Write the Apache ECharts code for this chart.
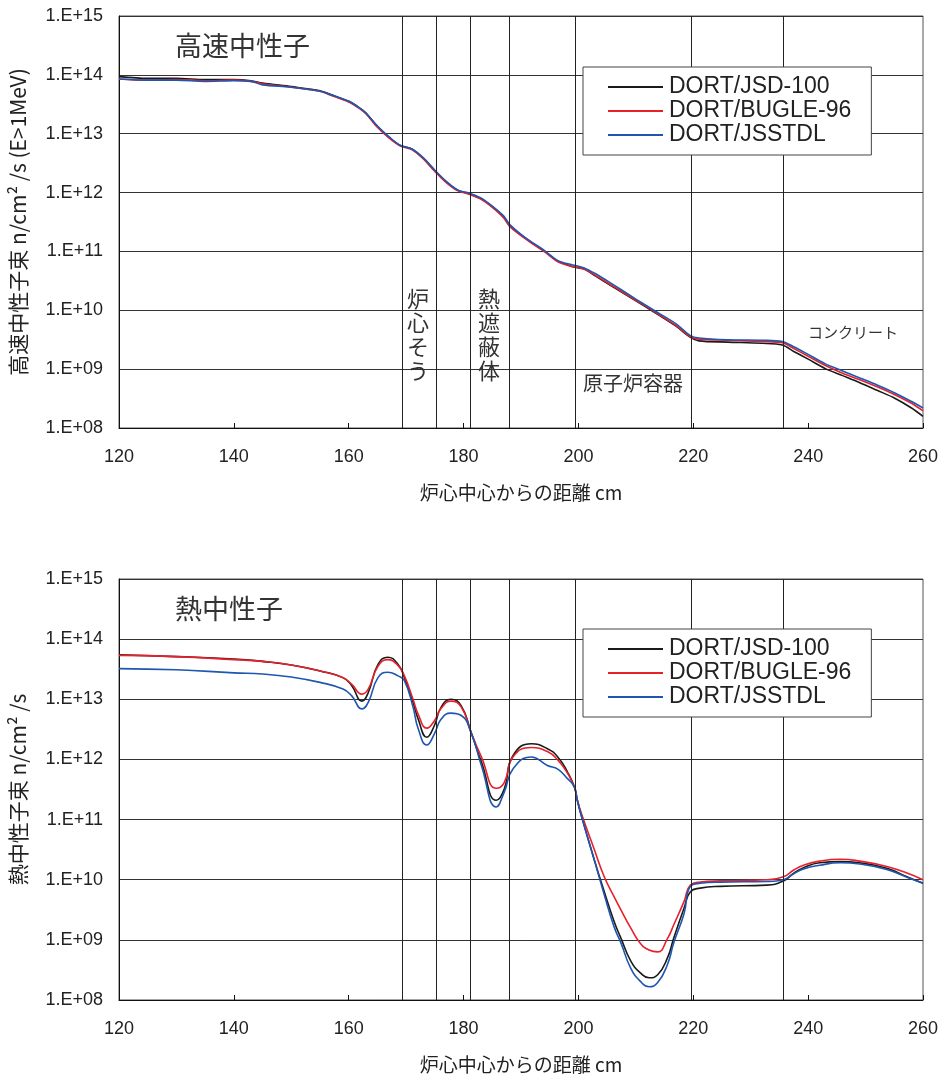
<!DOCTYPE html>
<html>
<head>
<meta charset="utf-8">
<script src="https://cdn.jsdelivr.net/npm/echarts@6/dist/echarts.min.js"></script>
<style>
html,body{margin:0;padding:0;background:#fff;}
#c{width:943px;height:1075px;}
</style>
</head>
<body>
<div id="c"></div>
<script>
// ---------- data ----------
const seriesNames = ['DORT/JSD-100', 'DORT/BUGLE-96', 'DORT/JSSTDL'];
const xTicks = [120, 140, 160, 180, 200, 220, 240, 260];
const yTickLabels = ['1.E+08','1.E+09','1.E+10','1.E+11','1.E+12','1.E+13','1.E+14','1.E+15'];
const regionBoundaries = [169.3, 175.2, 181.2, 188.0, 199.4, 219.7, 235.7];

// fast neutron flux (E>1MeV)
const fastX = [120,125,130,135,140,143,145,150,155,157,160,162,163,165,167,169,171,173,175,177,179,181,183,185,187,188,190,192,194,196,197,199,201,203,206,210,213,217,219.5,221,226,232,235.5,237.5,240,243,246,249,252,255,258,260];
const fastJSD = [9.33e13,8.71e13,8.71e13,8.32e13,8.32e13,7.94e13,7.24e13,6.31e13,5.37e13,4.57e13,3.55e13,2.69e13,2.24e13,1.32e13,8.71e12,6.31e12,5.50e12,3.80e12,2.34e12,1.51e12,1.10e12,9.55e11,7.94e11,5.75e11,3.80e11,2.75e11,1.91e11,1.38e11,1.02e11,7.24e10,6.46e10,5.50e10,5.01e10,3.80e10,2.51e10,1.45e10,9.55e9,5.37e9,3.47e9,3.02e9,2.88e9,2.75e9,2.57e9,2.0e9,1.48e9,1.02e9,7.76e8,5.89e8,4.37e8,3.24e8,2.19e8,1.58e8];
const fastBUGLE = [8.51e13,8.13e13,8.32e13,7.94e13,8.13e13,7.76e13,7.08e13,6.17e13,5.25e13,4.47e13,3.47e13,2.63e13,2.19e13,1.29e13,8.51e12,6.17e12,5.37e12,3.72e12,2.29e12,1.48e12,1.07e12,9.33e11,7.76e11,5.62e11,3.72e11,2.69e11,1.86e11,1.35e11,1.0e11,7.08e10,6.31e10,5.50e10,5.01e10,3.89e10,2.57e10,1.48e10,9.77e9,5.50e9,3.55e9,3.24e9,3.09e9,2.95e9,2.82e9,2.24e9,1.66e9,1.15e9,8.51e8,6.61e8,5.01e8,3.72e8,2.63e8,1.95e8];
const fastJSSTDL = [8.51e13,8.13e13,8.13e13,7.76e13,7.94e13,7.76e13,6.76e13,6.17e13,5.25e13,4.57e13,3.55e13,2.69e13,2.24e13,1.35e13,8.91e12,6.31e12,5.50e12,3.89e12,2.40e12,1.55e12,1.10e12,9.77e11,8.13e11,5.89e11,3.98e11,2.88e11,1.95e11,1.41e11,1.05e11,7.41e10,6.61e10,5.89e10,5.25e10,4.17e10,2.75e10,1.55e10,1.02e10,5.89e9,3.72e9,3.39e9,3.16e9,3.09e9,2.95e9,2.40e9,1.78e9,1.23e9,9.33e8,7.08e8,5.37e8,3.98e8,2.82e8,2.19e8];

// thermal neutron flux
const thermX = [120,130,140,145,150,155,159,160.5,162.3,163.4,165.1,166.8,168.6,169.7,171.2,172.1,173.6,174.9,176.1,177.8,179.6,181.3,183.1,185.7,187.1,188.6,191.8,194.6,196.4,198.1,199.3,199.8,200.7,202.7,204.5,206.2,207.4,209.1,210.8,212.3,213.8,215.5,216.6,218.4,219.5,221.2,224.7,232.8,235.7,237.5,239.2,242,245.6,249,253.7,257.2,260];
const thermJSD = [5.50e13,5.13e13,4.68e13,4.27e13,3.72e13,2.95e13,2.29e13,1.70e13,9.33e12,1.29e13,3.80e13,5.01e13,3.80e13,2.29e13,8.91e12,4.68e12,2.34e12,3.63e12,7.41e12,1.0e13,7.76e12,2.82e12,9.12e11,2.09e11,3.24e11,1.15e12,1.82e12,1.51e12,1.10e12,6.17e11,3.47e11,2.09e11,1.0e11,2.24e10,6.31e9,2.04e9,1.07e9,4.47e8,2.82e8,2.34e8,2.63e8,5.01e8,1.07e9,3.39e9,6.31e9,7.24e9,7.76e9,8.13e9,9.55e9,1.29e10,1.58e10,1.91e10,2.0e10,1.91e10,1.55e10,1.12e10,8.71e9];
const thermBUGLE = [5.37e13,5.13e13,4.57e13,4.27e13,3.72e13,2.95e13,2.29e13,1.78e13,1.22e13,1.48e13,3.55e13,4.57e13,3.63e13,2.45e13,1.0e13,5.62e12,3.31e12,4.37e12,7.08e12,9.33e12,7.41e12,2.82e12,1.10e12,3.31e11,4.17e11,1.10e12,1.58e12,1.35e12,9.77e11,5.89e11,3.47e11,2.14e11,1.12e11,3.31e10,1.12e10,5.25e9,3.16e9,1.58e9,8.71e8,6.76e8,6.31e8,1.05e9,1.78e9,4.37e9,8.13e9,9.12e9,9.55e9,1.0e10,1.12e10,1.45e10,1.74e10,2.04e10,2.19e10,2.04e10,1.66e10,1.29e10,1.0e10];
const thermJSSTDL = [3.24e13,3.09e13,2.75e13,2.63e13,2.34e13,1.91e13,1.48e13,1.15e13,6.92e12,8.91e12,2.29e13,2.82e13,2.45e13,2.04e13,7.41e12,3.24e12,1.74e12,2.63e12,4.68e12,5.89e12,5.37e12,2.82e12,7.94e11,1.62e11,2.88e11,6.92e11,1.10e12,7.94e11,6.92e11,4.79e11,3.47e11,2.09e11,1.0e11,2.24e10,5.62e9,1.66e9,8.91e8,3.39e8,2.04e8,1.66e8,1.95e8,3.89e8,8.91e8,2.75e9,7.76e9,8.71e9,9.12e9,9.33e9,1.0e10,1.26e10,1.51e10,1.74e10,1.91e10,1.82e10,1.48e10,1.10e10,8.71e9];

// ---------- chart ----------
const colors = ['#1a1a1a', '#e8202a', '#1f56b0'];
const pair = (xs, ys) => xs.map((x, i) => [x, ys[i]]);
const tickFont = 'Liberation Sans, Arial, sans-serif';
const cjkFont = '"Noto Sans CJK JP", sans-serif';

function xAxisCfg(gi) {
  return {
    type: 'value', gridIndex: gi, min: xTicks[0], max: xTicks[xTicks.length - 1], interval: 20,
    name: '炉心中心からの距離 cm', nameLocation: 'middle', nameGap: 55,
    nameTextStyle: { fontFamily: cjkFont, fontSize: 19, color: '#222' },
    axisLine: { show: true, lineStyle: { color: '#111', width: 1 } },
    axisTick: { show: true, inside: true, length: 5, lineStyle: { color: '#111' } },
    axisLabel: { fontFamily: tickFont, fontSize: 18, color: '#222', margin: 20 },
    splitLine: { show: false }
  };
}
function yAxisCfg(gi, name) {
  return {
    type: 'log', gridIndex: gi, logBase: 10, min: 1e8, max: 1e15, splitNumber: 7,
    name: name, nameLocation: 'middle', nameGap: 90, nameRotate: 90,
    nameTextStyle: { fontFamily: cjkFont, fontSize: 21, color: '#222' },
    axisLine: { show: true, lineStyle: { color: '#111', width: 1 } },
    axisTick: { show: false },
    axisLabel: {
      fontFamily: tickFont, fontSize: 18, color: '#222', margin: 16,
      formatter: v => yTickLabels[Math.round(Math.log10(v)) - 8]
    },
    splitLine: { show: true, lineStyle: { color: '#333', width: 1 } }
  };
}
function lineSeries(gi, name, data, color, smooth, withMarks) {
  const s = {
    type: 'line', name: name, xAxisIndex: gi, yAxisIndex: gi, data: data,
    showSymbol: false, symbol: 'none', smooth: smooth,
    lineStyle: { color: color, width: 1.6 }, itemStyle: { color: color },
    z: 3, animation: false
  };
  if (withMarks) {
    s.markLine = {
      silent: true, symbol: ['none', 'none'], label: { show: false },
      lineStyle: { color: '#222', width: 1, type: 'solid' },
      data: regionBoundaries.map(v => ({ xAxis: v })),
      animation: false
    };
  }
  return s;
}
function legendCfg(top) {
  return {
    orient: 'vertical', left: 583, top: top,
    data: seriesNames,
    icon: 'rect', itemWidth: 55, itemHeight: 2, itemGap: 0,
    padding: [8, 20, 8, 25],
    backgroundColor: '#fff', borderColor: '#444', borderWidth: 1, borderRadius: 0,
    textStyle: { fontFamily: tickFont, fontSize: 23, lineHeight: 24, color: '#222', padding: [0, 0, 0, 1] },
    selectedMode: false, z: 10
  };
}
function vtext(x, y, str, size) {
  return {
    type: 'text', x: x, y: y, z: 20,
    style: { text: str.split('').join('\n'), font: size + 'px ' + cjkFont, lineHeight: size + 2, fill: '#333', align: 'center', verticalAlign: 'top' }
  };
}
function htext(x, y, str, size) {
  return {
    type: 'text', left: x, top: y, z: 20,
    style: { text: str, font: size + 'px ' + cjkFont, fill: '#333' }
  };
}

const chart = echarts.init(document.getElementById('c'), null, { renderer: 'canvas' });
chart.setOption({
  animation: false,
  backgroundColor: '#fff',
  grid: [
    { left: 117, top: 16, width: 806, height: 412, show: true, borderColor: '#555', borderWidth: 1 },
    { left: 117, top: 579, width: 806, height: 423, show: true, borderColor: '#555', borderWidth: 1 }
  ],
  xAxis: [xAxisCfg(0), xAxisCfg(1)],
  yAxis: [yAxisCfg(0, '高速中性子束 n/cm² /s (E>1MeV)'), yAxisCfg(1, '熱中性子束 n/cm² /s')],
  legend: [legendCfg(67), legendCfg(629)],
  series: [
    lineSeries(0, seriesNames[0], pair(fastX, fastJSD), colors[0], 0.3, true),
    lineSeries(0, seriesNames[1], pair(fastX, fastBUGLE), colors[1], 0.3, false),
    lineSeries(0, seriesNames[2], pair(fastX, fastJSSTDL), colors[2], 0.3, false),
    lineSeries(1, seriesNames[0], pair(thermX, thermJSD), colors[0], 0.5, true),
    lineSeries(1, seriesNames[1], pair(thermX, thermBUGLE), colors[1], 0.5, false),
    lineSeries(1, seriesNames[2], pair(thermX, thermJSSTDL), colors[2], 0.5, false)
  ],
  graphic: [
    htext(175, 32, '高速中性子', 27),
    htext(175, 595, '熱中性子', 27),
    vtext(418, 287, '炉心そう', 22),
    vtext(489, 287, '熱遮蔽体', 22),
    htext(583, 373, '原子炉容器', 20),
    htext(808, 325, 'コンクリート', 15)
  ]
});
</script>
</body>
</html>
